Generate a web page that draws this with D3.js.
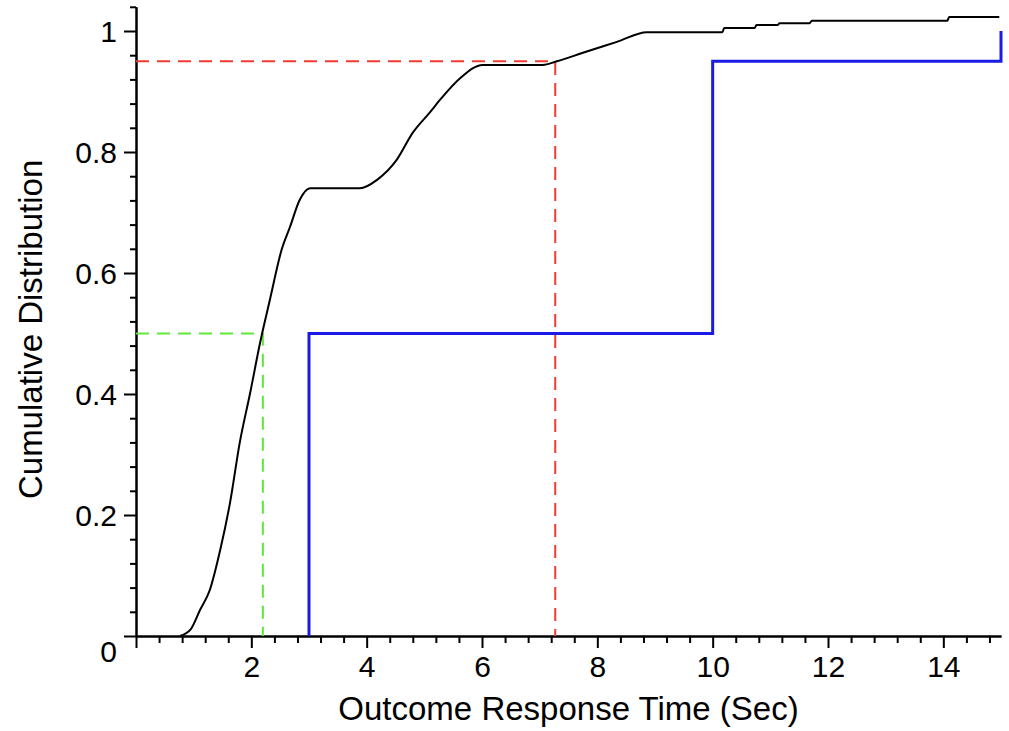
<!DOCTYPE html>
<html>
<head>
<meta charset="utf-8">
<script src="https://cdn.jsdelivr.net/npm/d3@7"></script>
<style>
  body { margin: 0; background: #fff; }
  svg { display: block; }
  .axis text { font-family: "Liberation Sans", Arial, sans-serif; fill: #000; }
  .title { font-family: "Liberation Sans", Arial, sans-serif; fill: #000; }
</style>
</head>
<body>
<svg id="chart" width="1009" height="731"></svg>
<script>
// black curve: estimated cumulative distribution
const cdf_x = [0.76, 0.94, 1.11, 1.28, 1.46, 1.63, 1.80, 1.98, 2.15, 2.32, 2.53, 2.67, 2.84, 3.02,
  3.88, 4.18, 4.52, 4.80, 5.10, 5.27, 5.62, 6.01, 7.05, 7.30, 7.75, 8.34, 8.86,
  10.17, 10.20, 10.73, 10.76, 11.13, 11.16, 11.68, 11.72, 14.07, 14.10, 14.97];
const cdf_y = [0, 0.01, 0.043, 0.076, 0.142, 0.22, 0.32, 0.402, 0.484, 0.555, 0.64, 0.676, 0.721, 0.74,
  0.74, 0.754, 0.787, 0.832, 0.866, 0.886, 0.922, 0.944, 0.944, 0.95, 0.964, 0.982, 0.998,
  0.998, 1.005, 1.005, 1.01, 1.01, 1.013, 1.013, 1.017, 1.017, 1.023, 1.023];

// blue step: empirical distribution
const step_x = [3, 3, 10, 10, 15, 15];
const step_y = [0, 0.5, 0.5, 0.95, 0.95, 1.0];

// quantile guides
const median_x = 2.2, median_p = 0.5;
const q95_x = 7.27, q95_p = 0.95;

const x_ticks = [2, 4, 6, 8, 10, 12, 14];
const y_ticks = [0, 0.2, 0.4, 0.6, 0.8, 1];

const svg = d3.select("#chart");
const width = 1009, height = 731;

svg.append("rect").attr("width", width).attr("height", height).attr("fill", "#fff");

const x_scale = d3.scaleLinear().domain([0, 15]).range([136, 1001]);
const y_scale = d3.scaleLinear().domain([0, 1.04]).range([636, 636 - 1.04 * 605]);

// minor ticks
const x_minor = d3.range(0.4, 15, 0.4).filter(v => Math.abs(v / 2 - Math.round(v / 2)) > 1e-6);
const y_minor = d3.range(0.04, 1.05, 0.04).filter(v => Math.abs(v / 0.2 - Math.round(v / 0.2)) > 1e-6);

const x_axis_minor = svg.append("g").attr("class", "axis")
    .attr("transform", `translate(0, ${y_scale(0)})`)
    .call(d3.axisBottom(x_scale).tickValues(x_minor).tickSize(7).tickSizeOuter(0).tickFormat(""));

const x_axis = svg.append("g").attr("class", "axis")
    .attr("transform", `translate(0, ${y_scale(0)})`)
    .call(d3.axisBottom(x_scale).tickValues([0].concat(x_ticks)).tickSize(12).tickSizeOuter(0)
      .tickPadding(7).tickFormat(d => d === 0 ? "" : d));

const y_axis_minor = svg.append("g").attr("class", "axis")
    .attr("transform", `translate(${x_scale(0)}, 0)`)
    .call(d3.axisLeft(y_scale).tickValues(y_minor).tickSize(6).tickSizeOuter(0).tickFormat(""));

const y_axis = svg.append("g").attr("class", "axis")
    .attr("transform", `translate(${x_scale(0)}, 0)`)
    .call(d3.axisLeft(y_scale).tickValues(y_ticks).tickSize(12).tickSizeOuter(0)
      .tickPadding(7).tickFormat(d3.format("")));

svg.selectAll(".axis path, .axis line").attr("stroke", "#000").attr("stroke-width", 2);
svg.selectAll(".axis text").attr("font-size", 30);
x_axis.selectAll("text").attr("dy", "0.72em");
y_axis.selectAll("text").attr("dy", "0.36em");
// zero label sits below its tick
y_axis.selectAll(".tick").filter(d => d === 0).select("text").attr("dy", "0.86em");

// guide lines
const guides = svg.append("g");
guides.append("path")
    .attr("d", `M${x_scale(0)},${y_scale(median_p)}H${x_scale(median_x)}V${y_scale(0)}`)
    .attr("fill", "none").attr("stroke", "#5ee83a").attr("stroke-width", 2)
    .attr("stroke-dasharray", "13,8");
guides.append("path")
    .attr("d", `M${x_scale(0)},${y_scale(q95_p)}H${x_scale(q95_x)}V${y_scale(0)}`)
    .attr("fill", "none").attr("stroke", "#f03a32").attr("stroke-width", 2)
    .attr("stroke-dasharray", "13,8");

const line = d3.line()
    .x(d => x_scale(d[0]))
    .y(d => y_scale(d[1]));

svg.append("path")
    .datum(step_x.map((v, i) => [v, step_y[i]]))
    .attr("d", line)
    .attr("fill", "none").attr("stroke", "#1a1ae6").attr("stroke-width", 3);

svg.append("path")
    .datum(cdf_x.map((v, i) => [v, cdf_y[i]]))
    .attr("d", line.curve(d3.curveMonotoneX))
    .attr("fill", "none").attr("stroke", "#000").attr("stroke-width", 2);

svg.append("text").attr("class", "title")
    .attr("x", (x_scale(0) + x_scale(15)) / 2).attr("y", 720)
    .attr("text-anchor", "middle").attr("font-size", 33)
    .text("Outcome Response Time (Sec)");

svg.append("text").attr("class", "title")
    .attr("transform", `translate(42, ${(y_scale(0) + y_scale(1.04)) / 2 + 8}) rotate(-90)`)
    .attr("text-anchor", "middle").attr("font-size", 33)
    .text("Cumulative Distribution");
</script>
</body>
</html>
